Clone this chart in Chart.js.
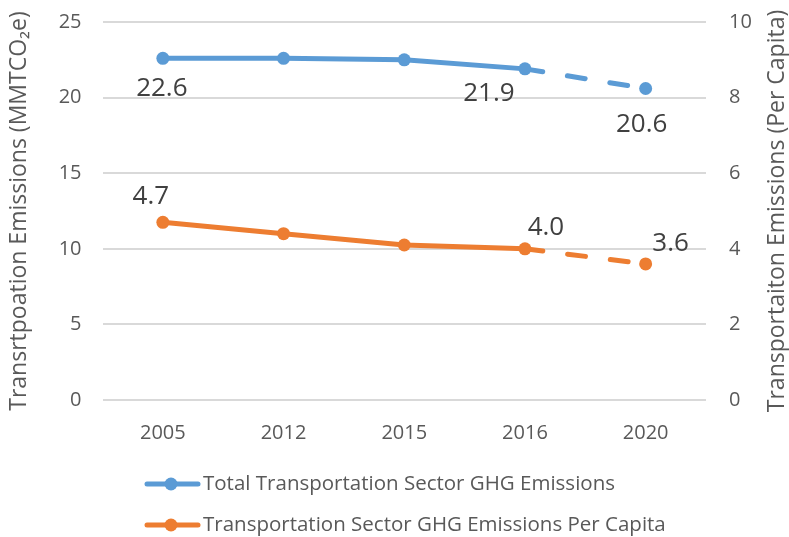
<!DOCTYPE html>
<html>
<head>
<meta charset="utf-8">
<script src="https://cdn.jsdelivr.net/npm/chart.js@4.4.0/dist/chart.umd.min.js"></script>
<style>
  html, body { margin: 0; padding: 0; background: #fff; }
  canvas { display: block; }
</style>
</head>
<body>
<canvas id="ghgChart" width="789" height="537"></canvas>
<script>
const years = ['2005', '2012', '2015', '2016', '2020'];
const totalEmissions = [22.6, 22.6, 22.5, 21.9, 20.6];
const perCapitaEmissions = [4.7, 4.4, 4.1, 4.0, 3.6];
const totalLabels = ['22.6', null, null, '21.9', '20.6'];
const perCapitaLabels = ['4.7', null, null, '4.0', '3.6'];
const seriesNames = ['Total Transportation Sector GHG Emissions', 'Transportation Sector GHG Emissions Per Capita'];
const projectedIndex = 4; // 2020 is a projection, drawn dashed

const BLUE = '#5B9BD5';
const ORANGE = '#ED7D31';
const FONT = "'Open Sans', sans-serif";

// label offsets from the point (label centre), one row per dataset
const labelOffsets = [
  [[-1, 28], null, null, [-36, 23], [-4, 34]],
  [[-12, -28], null, null, [21, -23], [25, -22]]
];

const dataLabels = {
  id: 'dataLabels',
  afterDatasetsDraw(chart) {
    const ctx = chart.ctx;
    const size = 26;
    ctx.save();
    ctx.font = size + 'px ' + FONT;
    ctx.fillStyle = '#404040';
    ctx.textAlign = 'center';
    ctx.textBaseline = 'alphabetic';
    chart.data.datasets.forEach((ds, i) => {
      const meta = chart.getDatasetMeta(i);
      ds.pointLabels.forEach((txt, j) => {
        if (!txt) return;
        const pt = meta.data[j];
        const off = labelOffsets[i][j];
        ctx.fillText(txt, pt.x + off[0], pt.y + off[1] + size * 0.357);
      });
    });
    ctx.restore();
  }
};

// legend with line + marker rows, and right axis title reading upward
const extras = {
  id: 'extras',
  afterDraw(chart) {
    const ctx = chart.ctx;
    const area = chart.chartArea;
    ctx.save();
    ctx.font = '23px ' + FONT;
    ctx.fillStyle = '#595959';
    ctx.textAlign = 'center';
    ctx.textBaseline = 'middle';
    ctx.translate(777, (area.top + area.bottom) / 2);
    ctx.rotate(-Math.PI / 2);
    ctx.fillText('Transportaiton Emissions (Per Capita)', 0, 0);
    ctx.restore();

    ctx.save();
    chart.data.datasets.forEach((ds, i) => {
      const y = 484 + i * 41;
      ctx.strokeStyle = ds.borderColor;
      ctx.lineWidth = 5;
      ctx.lineCap = 'round';
      ctx.beginPath();
      ctx.moveTo(147, y);
      ctx.lineTo(198, y);
      ctx.stroke();
      ctx.fillStyle = ds.borderColor;
      ctx.beginPath();
      ctx.arc(171, y, 6.5, 0, Math.PI * 2);
      ctx.fill();
      ctx.font = '20.5px ' + FONT;
      ctx.fillStyle = '#595959';
      ctx.textAlign = 'left';
      ctx.textBaseline = 'middle';
      ctx.fillText(ds.label, 203, y);
    });
    ctx.restore();
  }
};

const dashProjected = ctx => ctx.p1DataIndex === projectedIndex ? [18, 25] : undefined;

const fitVertical = width => s => {
  s.width = width;
  s.paddingTop = 0;
  s.paddingBottom = 0;
};

new Chart(document.getElementById('ghgChart'), {
  type: 'line',
  data: {
    labels: years,
    datasets: [{
      label: seriesNames[0],
      data: totalEmissions,
      pointLabels: totalLabels,
      yAxisID: 'y',
      borderColor: BLUE,
      backgroundColor: BLUE,
      pointBackgroundColor: BLUE,
      borderWidth: 5,
      borderCapStyle: 'round',
      pointRadius: 6.5,
      pointBorderWidth: 0,
      tension: 0,
      segment: { borderDash: dashProjected }
    }, {
      label: seriesNames[1],
      data: perCapitaEmissions,
      pointLabels: perCapitaLabels,
      yAxisID: 'y1',
      borderColor: ORANGE,
      backgroundColor: ORANGE,
      pointBackgroundColor: ORANGE,
      borderWidth: 5,
      borderCapStyle: 'round',
      pointRadius: 6.5,
      pointBorderWidth: 0,
      tension: 0,
      segment: { borderDash: dashProjected }
    }]
  },
  options: {
    responsive: false,
    animation: false,
    layout: { autoPadding: false, padding: { top: 22, left: 0, right: 0, bottom: 0 } },
    plugins: {
      legend: { display: false },
      tooltip: { enabled: false }
    },
    scales: {
      x: {
        offset: true,
        grid: { display: false },
        border: { display: false },
        ticks: { color: '#595959', font: { family: FONT, size: 20 }, padding: 13, maxRotation: 0 },
        afterFit: s => { s.height = 137; s.paddingLeft = 0; s.paddingRight = 0; }
      },
      y: {
        position: 'left',
        min: 0,
        max: 25,
        ticks: { stepSize: 5, color: '#595959', font: { family: FONT, size: 20 }, padding: 21 },
        grid: { color: '#D9D9D9', lineWidth: 2, drawTicks: false },
        border: { display: false },
        title: {
          display: true,
          text: 'Transrtpoation Emissions (MMTCO₂e)',
          color: '#595959',
          font: { family: FONT, size: 23 },
          padding: { top: 6, bottom: 0 }
        },
        afterFit: fitVertical(102.5)
      },
      y1: {
        position: 'right',
        min: 0,
        max: 10,
        ticks: { stepSize: 2, color: '#595959', font: { family: FONT, size: 20 }, padding: 23 },
        grid: { display: false, drawTicks: false },
        border: { display: false },
        afterFit: fitVertical(83)
      }
    }
  },
  plugins: [dataLabels, extras]
});
</script>
</body>
</html>
